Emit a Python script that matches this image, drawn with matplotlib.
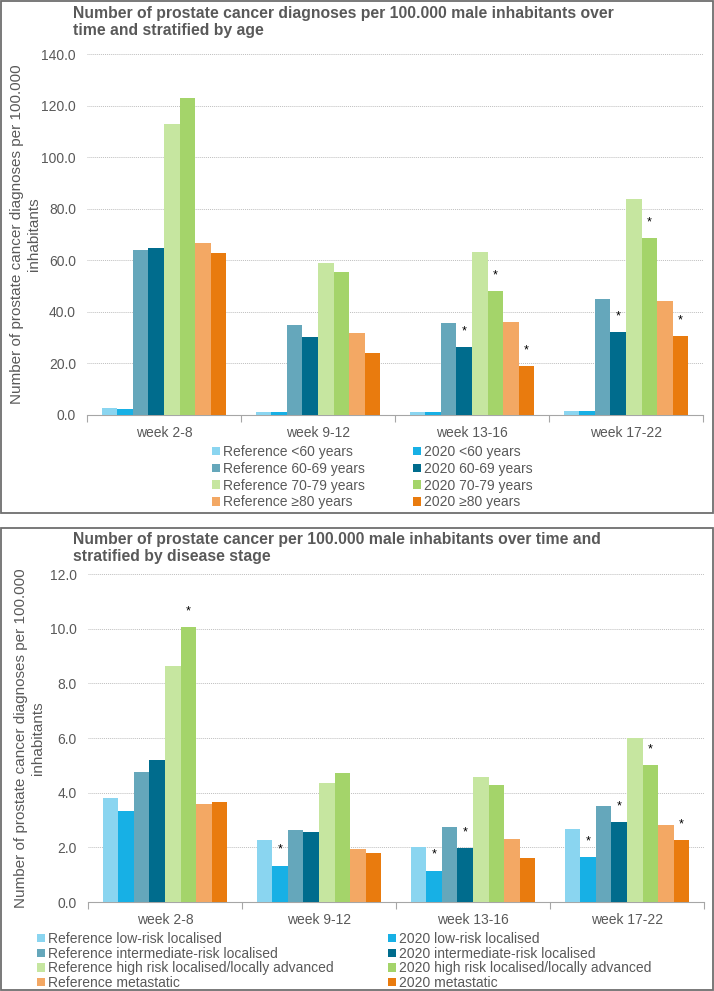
import matplotlib
matplotlib.use("Agg")
import matplotlib.pyplot as plt
from matplotlib.patches import Rectangle, Patch
import numpy as np

plt.rcParams['font.family'] = ['Liberation Sans', 'DejaVu Sans']

W, H = 714, 991
GRAY = '#595959'

categories = ["week 2-8", "week 9-12", "week 13-16", "week 17-22"]

# ---- Top chart: by age ----
age_title = "Number of prostate cancer diagnoses per 100.000 male inhabitants over\ntime and stratified by age"
age_labels = ["Reference <60 years", "2020 <60 years",
              "Reference 60-69 years", "2020 60-69 years",
              "Reference 70-79 years", "2020 70-79 years",
              "Reference \u226580 years", "2020 \u226580 years"]
ref_lt60 = [2.7, 1.2, 1.1, 1.4]
y20_lt60 = [2.5, 1.2, 1.1, 1.4]
ref_6069 = [64.0, 34.8, 35.7, 44.8]
y20_6069 = [64.6, 30.4, 26.5, 32.2]
ref_7079 = [113.0, 58.8, 63.3, 83.9]
y20_7079 = [123.0, 55.4, 48.1, 68.6]
ref_ge80 = [66.7, 31.9, 36.2, 44.4]
y20_ge80 = [63.0, 24.0, 18.9, 30.5]
age_series = [ref_lt60, y20_lt60, ref_6069, y20_6069, ref_7079, y20_7079, ref_ge80, y20_ge80]
# significance marks: (series index, category index)
age_stars = [(3, 2), (5, 2), (7, 2), (3, 3), (5, 3), (7, 3)]
age_yticks = [0, 20, 40, 60, 80, 100, 120, 140]

# ---- Bottom chart: by stage ----
stage_title = "Number of prostate cancer per 100.000 male inhabitants over time and\nstratified by disease stage"
stage_labels = ["Reference low-risk localised", "2020 low-risk localised",
                "Reference intermediate-risk localised", "2020 intermediate-risk localised",
                "Reference high risk localised/locally advanced", "2020 high risk localised/locally advanced",
                "Reference metastatic", "2020 metastatic"]
ref_low = [3.82, 2.27, 2.02, 2.67]
y20_low = [3.34, 1.33, 1.15, 1.64]
ref_int = [4.77, 2.62, 2.76, 3.51]
y20_int = [5.18, 2.56, 1.97, 2.93]
ref_high = [8.63, 4.37, 4.56, 5.99]
y20_high = [10.06, 4.72, 4.28, 5.00]
ref_meta = [3.57, 1.93, 2.29, 2.81]
y20_meta = [3.66, 1.80, 1.60, 2.27]
stage_series = [ref_low, y20_low, ref_int, y20_int, ref_high, y20_high, ref_meta, y20_meta]
stage_stars = [(5, 0), (1, 1), (1, 2), (3, 2), (1, 3), (3, 3), (5, 3), (7, 3)]
stage_yticks = [0, 2, 4, 6, 8, 10, 12]

colors = ['#8AD5F0', '#17B0E5', '#65A7BB', '#006C8D',
          '#C6E6A0', '#A4D46A', '#F3A864', '#E97B0E']

ylabel = "Number of prostate cancer diagnoses per 100.000\ninhabitants"

fig = plt.figure(figsize=(W / 100, H / 100), dpi=100)


def fx(px):
    return px / W


def fy(py):
    return 1 - py / H


def make_chart(rect_px, series, labels, stars, yticks, title, title_y,
               frame, legend_anchor, legend_colsp, legend_spacing, ylabel_x):
    left, top, right, bottom = rect_px
    ax = fig.add_axes([fx(left), fy(bottom), (right - left) / W, (bottom - top) / H])
    n = len(series)
    bw = 0.101
    x = np.arange(len(categories))
    bars = []
    for i, (vals, c) in enumerate(zip(series, colors)):
        b = ax.bar(x + (i - (n - 1) / 2) * bw, vals, width=bw, color=c, linewidth=0, zorder=3)
        bars.append(b)
    for si, ci in stars:
        rect = bars[si][ci]
        ax.annotate('*', (rect.get_x() + rect.get_width() / 2, rect.get_height()),
                    xytext=(0, 7), textcoords='offset points', ha='center', va='bottom',
                    fontsize=9, color='black', zorder=5)
    ax.set_xlim(-0.5, len(categories) - 0.5)
    ax.set_ylim(yticks[0], yticks[-1])
    ax.set_yticks(yticks)
    ax.set_yticklabels([f"{v:.1f}" for v in yticks], fontsize=10, color=GRAY)
    ax.tick_params(axis='y', length=0, pad=8)
    ax.set_xticks(np.arange(len(categories) + 1) - 0.5)
    ax.set_xticklabels([])
    ax.tick_params(axis='x', which='major', length=5, color='#A6A6A6', width=0.8)
    ax.set_xticks(x, minor=True)
    ax.set_xticklabels(categories, minor=True, fontsize=10, color=GRAY)
    ax.tick_params(axis='x', which='minor', length=0, pad=8)
    for s in ['top', 'right', 'left']:
        ax.spines[s].set_visible(False)
    ax.spines['bottom'].set_color('#A6A6A6')
    ax.spines['bottom'].set_linewidth(0.8)
    ax.yaxis.grid(True, color='#BFBFBF', linestyle=(0, (1, 1)), linewidth=0.7, zorder=0)
    ax.set_axisbelow(True)
    ax.set_ylabel(ylabel, fontsize=11, color=GRAY, linespacing=1.3)
    ax.yaxis.set_label_coords((ylabel_x - left) / (right - left), 0.5)
    fig.text(fx(73), fy(title_y), title, fontsize=11.3, fontweight='bold', color=GRAY,
             ha='left', va='top', linespacing=1.15)
    fl, ft, fr, fb = frame
    fig.patches.append(Rectangle((fx(fl), fy(fb)), (fr - fl) / W, (fb - ft) / H,
                                 transform=fig.transFigure, fill=False,
                                 edgecolor='#6E6E6E', linewidth=1.3))
    handles = [Patch(facecolor=c, edgecolor='none') for c in colors]
    order = [0, 2, 4, 6, 1, 3, 5, 7]
    fig.legend([handles[k] for k in order], [labels[k] for k in order],
               ncol=2, loc='upper left', bbox_to_anchor=(fx(legend_anchor[0]), fy(legend_anchor[1])),
               frameon=False, fontsize=10, labelcolor=GRAY,
               handlelength=0.55, handleheight=0.55, handletextpad=0.25,
               columnspacing=legend_colsp, labelspacing=legend_spacing,
               borderpad=0, borderaxespad=0)
    return ax


make_chart((87, 54, 703, 415), age_series, age_labels, age_stars, age_yticks,
           age_title, 6, (1, 1, 713, 513), (212, 445), 3.45, 0.2, 41)
make_chart((88, 574, 704, 902), stage_series, stage_labels, stage_stars, stage_yticks,
           stage_title, 532, (1, 528, 713, 990), (37, 932), 3.9, 0.05, 45)

fig.savefig("out.png", dpi=100)
